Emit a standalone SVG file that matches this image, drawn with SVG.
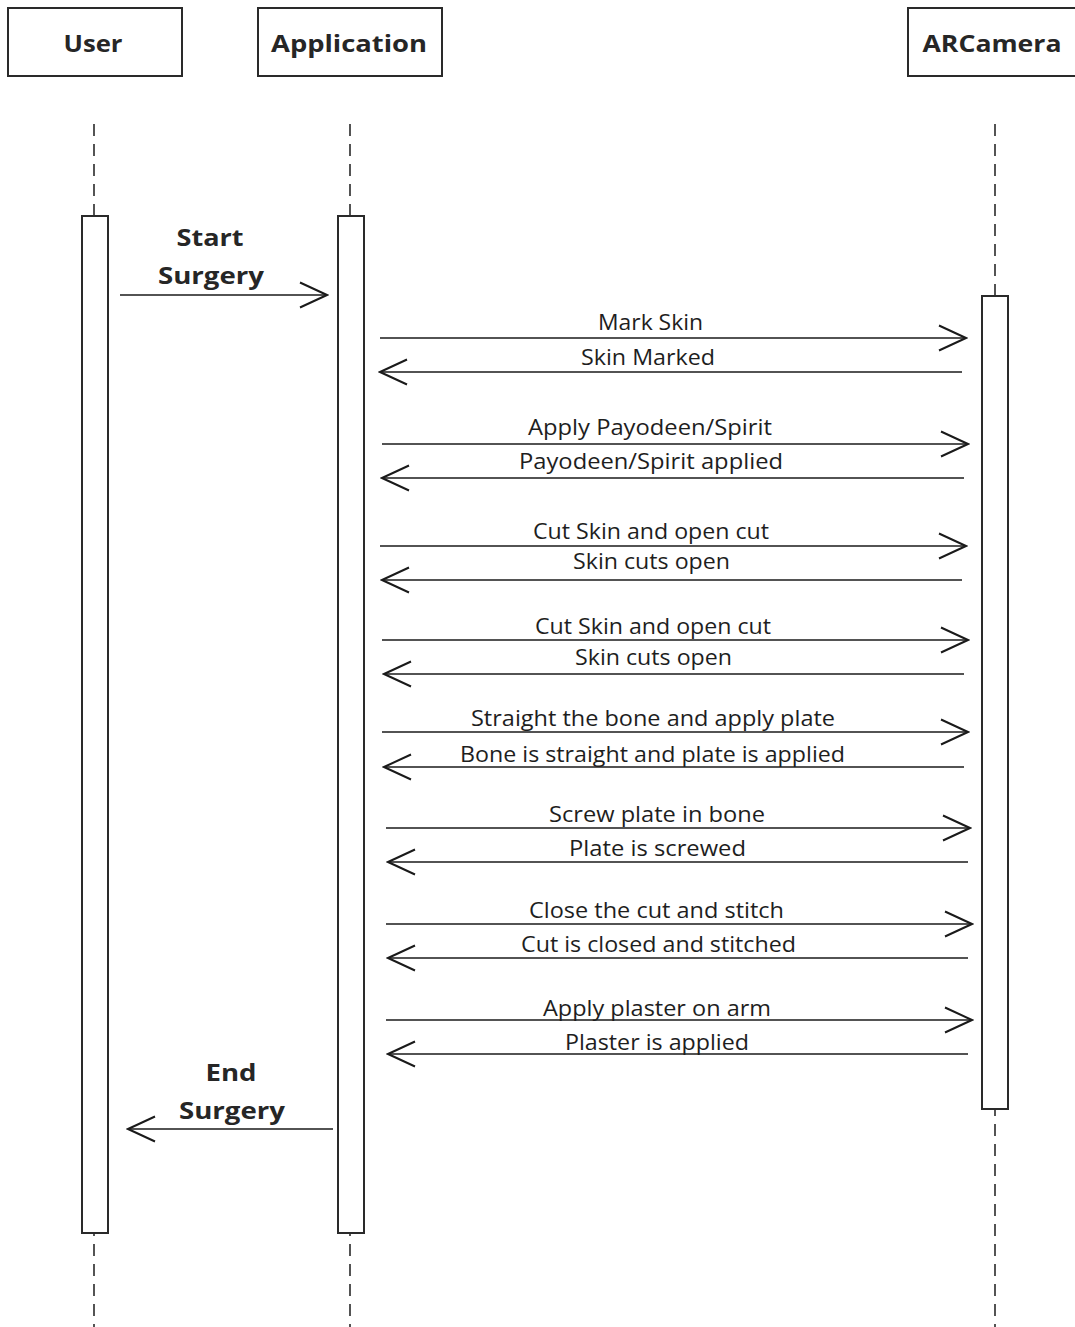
<svg xmlns="http://www.w3.org/2000/svg" width="1075" height="1327" viewBox="0 0 1075 1327">
<style>
.box{fill:#fff;stroke:#2a2a2a;stroke-width:2}
.act{fill:#fff;stroke:#2a2a2a;stroke-width:2}
.life{stroke:#2a2a2a;stroke-width:1.6;stroke-dasharray:12 8;fill:none}
.msg{stroke:#1a1a1a;stroke-width:1.6;fill:none}
.head{font-family:"Open Sans","Liberation Sans",sans-serif;font-weight:bold;font-size:24px;fill:#262626}
.lbl{font-family:"Open Sans","Liberation Sans",sans-serif;font-size:21px;fill:#1e1e1e}
.blbl{font-family:"Open Sans","Liberation Sans",sans-serif;font-weight:bold;font-size:24px;fill:#262626}
</style>
<defs>
<marker id="open" viewBox="0 0 30 30" refX="28" refY="15" markerWidth="30" markerHeight="30" markerUnits="userSpaceOnUse" orient="auto">
<path d="M1,2.5 L28,15 L1,27.5" fill="none" stroke="#1a1a1a" stroke-width="2"/>
</marker>
</defs>
<rect width="1075" height="1327" fill="#fff"/>
<g id="lifelines">
<line class="life" x1="94" y1="124" x2="94" y2="1327"/>
<line class="life" x1="350" y1="124" x2="350" y2="1327"/>
<line class="life" x1="995" y1="124" x2="995" y2="1327"/>
</g>
<g id="user">
<rect class="box" x="8" y="8" width="174" height="68"/>
<text class="head" x="93" y="52" text-anchor="middle" textLength="59" lengthAdjust="spacingAndGlyphs">User</text>
<rect class="act" x="82" y="216" width="26" height="1017"/>
</g>
<g id="application">
<rect class="box" x="258" y="8" width="184" height="68"/>
<text class="head" x="349" y="52" text-anchor="middle" textLength="156" lengthAdjust="spacingAndGlyphs">Application</text>
<rect class="act" x="338" y="216" width="26" height="1017"/>
</g>
<g id="arcamera">
<rect class="box" x="908" y="8" width="180" height="68"/>
<text class="head" x="992" y="52" text-anchor="middle" textLength="139" lengthAdjust="spacingAndGlyphs">ARCamera</text>
<rect class="act" x="982" y="296" width="26" height="813"/>
</g>
<g id="connectors">
<line class="msg" x1="120" y1="295" x2="327" y2="295" marker-end="url(#open)"/>
<line class="msg" x1="380" y1="338" x2="966" y2="338" marker-end="url(#open)"/>
<line class="msg" x1="962" y1="372" x2="380" y2="372" marker-end="url(#open)"/>
<line class="msg" x1="382" y1="444" x2="968" y2="444" marker-end="url(#open)"/>
<line class="msg" x1="964" y1="478" x2="382" y2="478" marker-end="url(#open)"/>
<line class="msg" x1="380" y1="546" x2="966" y2="546" marker-end="url(#open)"/>
<line class="msg" x1="962" y1="580" x2="382" y2="580" marker-end="url(#open)"/>
<line class="msg" x1="382" y1="640" x2="968" y2="640" marker-end="url(#open)"/>
<line class="msg" x1="964" y1="674" x2="384" y2="674" marker-end="url(#open)"/>
<line class="msg" x1="382" y1="732" x2="968" y2="732" marker-end="url(#open)"/>
<line class="msg" x1="964" y1="767" x2="384" y2="767" marker-end="url(#open)"/>
<line class="msg" x1="386" y1="828" x2="970" y2="828" marker-end="url(#open)"/>
<line class="msg" x1="968" y1="862" x2="388" y2="862" marker-end="url(#open)"/>
<line class="msg" x1="386" y1="924" x2="972" y2="924" marker-end="url(#open)"/>
<line class="msg" x1="968" y1="958" x2="388" y2="958" marker-end="url(#open)"/>
<line class="msg" x1="386" y1="1020" x2="972" y2="1020" marker-end="url(#open)"/>
<line class="msg" x1="968" y1="1054" x2="388" y2="1054" marker-end="url(#open)"/>
<line class="msg" x1="333" y1="1129" x2="128" y2="1129" marker-end="url(#open)"/>
</g>
<g id="labels">
<text class="blbl" x="210" y="246" text-anchor="middle" textLength="67" lengthAdjust="spacingAndGlyphs">Start</text>
<text class="blbl" x="211" y="284" text-anchor="middle" textLength="106" lengthAdjust="spacingAndGlyphs">Surgery</text>
<text class="lbl" x="650.5" y="330" text-anchor="middle" textLength="105" lengthAdjust="spacingAndGlyphs">Mark Skin</text>
<text class="lbl" x="648" y="365" text-anchor="middle" textLength="134" lengthAdjust="spacingAndGlyphs">Skin Marked</text>
<text class="lbl" x="650" y="435" text-anchor="middle" textLength="244" lengthAdjust="spacingAndGlyphs">Apply Payodeen/Spirit</text>
<text class="lbl" x="651" y="469" text-anchor="middle" textLength="264" lengthAdjust="spacingAndGlyphs">Payodeen/Spirit applied</text>
<text class="lbl" x="651" y="539" text-anchor="middle" textLength="236" lengthAdjust="spacingAndGlyphs">Cut Skin and open cut</text>
<text class="lbl" x="651.5" y="569" text-anchor="middle" textLength="157" lengthAdjust="spacingAndGlyphs">Skin cuts open</text>
<text class="lbl" x="653" y="634" text-anchor="middle" textLength="236" lengthAdjust="spacingAndGlyphs">Cut Skin and open cut</text>
<text class="lbl" x="653.5" y="665" text-anchor="middle" textLength="157" lengthAdjust="spacingAndGlyphs">Skin cuts open</text>
<text class="lbl" x="653" y="726" text-anchor="middle" textLength="364" lengthAdjust="spacingAndGlyphs">Straight the bone and apply plate</text>
<text class="lbl" x="652.5" y="762" text-anchor="middle" textLength="385" lengthAdjust="spacingAndGlyphs">Bone is straight and plate is applied</text>
<text class="lbl" x="657" y="822" text-anchor="middle" textLength="216" lengthAdjust="spacingAndGlyphs">Screw plate in bone</text>
<text class="lbl" x="657.5" y="856" text-anchor="middle" textLength="177" lengthAdjust="spacingAndGlyphs">Plate is screwed</text>
<text class="lbl" x="656.5" y="918" text-anchor="middle" textLength="255" lengthAdjust="spacingAndGlyphs">Close the cut and stitch</text>
<text class="lbl" x="658.5" y="952" text-anchor="middle" textLength="275" lengthAdjust="spacingAndGlyphs">Cut is closed and stitched</text>
<text class="lbl" x="657" y="1016" text-anchor="middle" textLength="228" lengthAdjust="spacingAndGlyphs">Apply plaster on arm</text>
<text class="lbl" x="657" y="1050" text-anchor="middle" textLength="184" lengthAdjust="spacingAndGlyphs">Plaster is applied</text>
<text class="blbl" x="231" y="1081" text-anchor="middle" textLength="51" lengthAdjust="spacingAndGlyphs">End</text>
<text class="blbl" x="232" y="1119" text-anchor="middle" textLength="106" lengthAdjust="spacingAndGlyphs">Surgery</text>
</g>
</svg>
